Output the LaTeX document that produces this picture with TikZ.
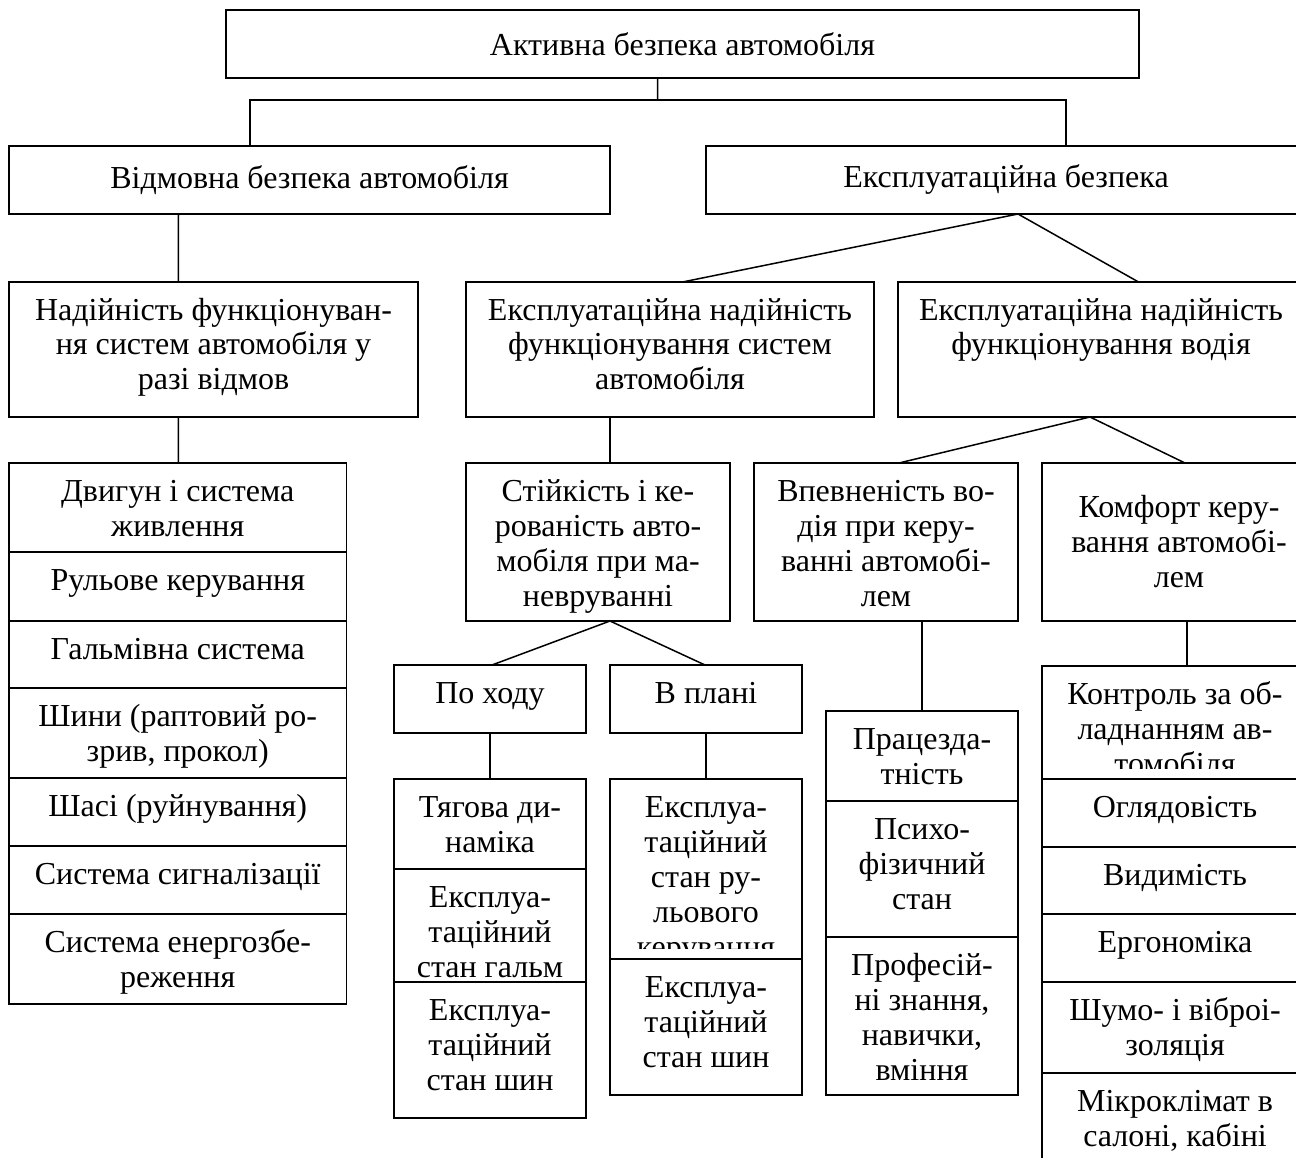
\documentclass[tikz,border=0pt]{standalone}
\usepackage{fontspec}
\setmainfont{Liberation Serif}
\usetikzlibrary{calc}
\tikzset{
  cell/.style={draw, line width=1.5pt, inner sep=0pt, outer sep=0pt, anchor=north west},
  txt/.style={inner sep=0pt, outer sep=0pt, font=\fontsize{32pt}{35pt}\selectfont},
  conn/.style={line width=1.5pt}
}
\newcommand\cellbox[5]{\node[cell, minimum width={(#4-#2)*1pt}, minimum height={(#5-#3)*1pt}] (#1) at (#2,#3) {};}
\newcommand\toptext[2]{\node[txt, anchor=base] (#1-t) at ([yshift=-38pt]#1.north) {\parbox[t]{400pt}{\centering #2}};}
\newcommand\midtext[2]{\node[txt] (#1-t) at (#1.center) {\parbox{400pt}{\centering #2}};}
\begin{document}
\begin{tikzpicture}[x=1pt,y=-1pt]
\useasboundingbox (0,0) rectangle (1296,1158);
\fill[white] (0,0) rectangle (1296,1158);
\clip (0,0) rectangle (1296,1158);

% level 0-2
\cellbox{top}{226}{10}{1139}{78}
\midtext{top}{Активна безпека автомобіля}
\cellbox{vidm}{9}{146}{610}{214}
\midtext{vidm}{Відмовна безпека автомобіля}
\cellbox{ekspl}{706}{146}{1306}{214}
\midtext{ekspl}{Експлуатаційна безпека}

\cellbox{nad}{9}{282}{418}{417}
\toptext{nad}{Надійність функціонуван-\\ня систем автомобіля у\\разі відмов}
\cellbox{ensys}{466}{282}{874}{417}
\toptext{ensys}{Експлуатаційна надійність\\функціонування систем\\автомобіля}
\cellbox{envod}{898}{282}{1304}{417}
\toptext{envod}{Експлуатаційна надійність\\функціонування водія}

% left column
\cellbox{l1}{9}{463}{346.5}{552}
\toptext{l1}{Двигун і система\\живлення}
\cellbox{l2}{9}{552}{346.5}{621}
\toptext{l2}{Рульове керування}
\cellbox{l3}{9}{621}{346.5}{688}
\toptext{l3}{Гальмівна система}
\cellbox{l4}{9}{688}{346.5}{778}
\toptext{l4}{Шини (раптовий ро-\\зрив, прокол)}
\cellbox{l5}{9}{778}{346.5}{846}
\toptext{l5}{Шасі (руйнування)}
\cellbox{l6}{9}{846}{346.5}{914}
\toptext{l6}{Система сигналізації}
\cellbox{l7}{9}{914}{346.5}{1004}
\toptext{l7}{Система енергозбе-\\реження}

% level 3
\cellbox{stiy}{466}{463}{730}{621}
\toptext{stiy}{Стійкість і ке-\\рованість авто-\\мобіля при ма-\\невруванні}
\cellbox{vpev}{754}{463}{1018}{621}
\toptext{vpev}{Впевненість во-\\дія при керу-\\ванні автомобі-\\лем}
\cellbox{komf}{1042}{463}{1316}{621}
\midtext{komf}{Комфорт керу-\\вання автомобі-\\лем}

\cellbox{pohodu}{394}{665}{586}{733}
\toptext{pohodu}{По ходу}
\cellbox{vplani}{610}{665}{802}{733}
\toptext{vplani}{В плані}

% column under По ходу
\cellbox{a1}{394}{779}{586}{869}
\toptext{a1}{Тягова ди-\\наміка}
\cellbox{a2}{394}{869}{586}{982}
\toptext{a2}{Експлуа-\\таційний\\стан гальм}
\cellbox{a3}{394}{982}{586}{1118}
\toptext{a3}{Експлуа-\\таційний\\стан шин}

% column under В плані
\cellbox{b1}{610}{779}{802}{959}
\begin{scope}
\clip (610,779) rectangle (802,948);
\toptext{b1}{Експлуа-\\таційний\\стан ру-\\льового\\керування}
\end{scope}
\cellbox{b2}{610}{959}{802}{1095}
\toptext{b2}{Експлуа-\\таційний\\стан шин}

% column under Впевненість
\cellbox{c1}{826}{711}{1018}{801}
\toptext{c1}{Працезда-\\тність}
\cellbox{c2}{826}{801}{1018}{937}
\toptext{c2}{Психо-\\фізичний\\стан}
\cellbox{c3}{826}{937}{1018}{1095}
\toptext{c3}{Професій-\\ні знання,\\навички,\\вміння}

% column under Комфорт
\cellbox{d1}{1042}{666}{1308}{779}
\begin{scope}
\clip (1042,666) rectangle (1308,768);
\toptext{d1}{Контроль за об-\\ладнанням ав-\\томобіля}
\end{scope}
\cellbox{d2}{1042}{779}{1308}{847}
\toptext{d2}{Оглядовість}
\cellbox{d3}{1042}{847}{1308}{914}
\toptext{d3}{Видимість}
\cellbox{d4}{1042}{914}{1308}{982}
\toptext{d4}{Ергономіка}
\cellbox{d5}{1042}{982}{1308}{1073}
\toptext{d5}{Шумо- і віброі-\\золяція}
\cellbox{d6}{1042}{1073}{1308}{1190}
\toptext{d6}{Мікроклімат в\\салоні, кабіні}

% connectors
\coordinate (j0) at (657.6,100);
\draw[conn] ([xshift=-25pt]top.south) -- (j0);
\draw[conn] ([xshift=-59.5pt]vidm.north) |- (j0) -| ([xshift=60pt]ekspl.north);
\draw[conn] ([xshift=-131pt]vidm.south) -- ([xshift=-35.1pt]nad.north);
\draw[conn] ([xshift=-35.1pt]nad.south) -- ([xshift=0.6pt]l1.north);
\draw[conn] ([xshift=12.5pt]ensys.north) -- ([xshift=12pt]ekspl.south) -- ([xshift=37.5pt]envod.north);
\draw[conn] ([xshift=-60pt]ensys.south) -- ([xshift=12pt]stiy.north);
\draw[conn] ([xshift=13pt]vpev.north) -- ([xshift=-11pt]envod.south) -- ([xshift=6pt]komf.north);
\draw[conn] ([xshift=2pt]pohodu.north) -- ([xshift=12pt]stiy.south) -- ([xshift=-1pt]vplani.north);
\draw[conn] (pohodu.south) -- (a1.north);
\draw[conn] (vplani.south) -- (b1.north);
\draw[conn] ([xshift=36pt]vpev.south) -- (c1.north);
\draw[conn] ([xshift=8pt]komf.south) -- ([xshift=12pt]d1.north);
\end{tikzpicture}
\end{document}
